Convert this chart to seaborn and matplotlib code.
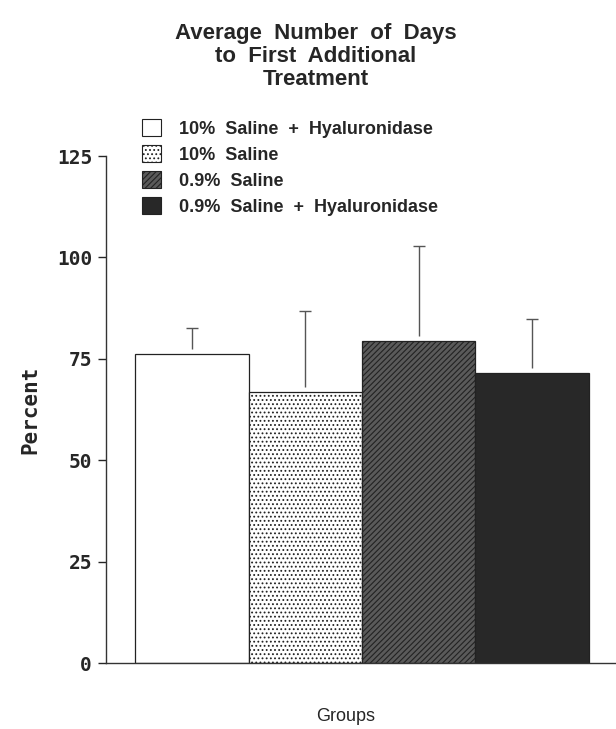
import pandas as pd
import matplotlib
matplotlib.use("Agg")
import matplotlib.pyplot as plt
import seaborn as sns
from matplotlib.patches import Patch

# ===============================
# Data
# ===============================
groups = ["10% Saline + Hyaluronidase", "10% Saline", "0.9% Saline", "0.9% Saline + Hyaluronidase"]
legend_labels = ["10%  Saline  +  Hyaluronidase", "10%  Saline", "0.9%  Saline", "0.9%  Saline  +  Hyaluronidase"]
means = [76.2, 66.8, 79.4, 71.5]
upper_err = [6.4, 20.0, 23.4, 13.3]
yticks = [0, 25, 50, 75, 100, 125]

faces = ["white", "white", "#5a5a5a", "#282828"]
hatches = [None, "....", "//////", None]

df = pd.DataFrame({"group": groups, "value": means})

sns.set_style("white")
plt.rcParams["font.family"] = ["Liberation Sans", "DejaVu Sans"]
plt.rcParams["hatch.linewidth"] = 0.8

fig = plt.figure(figsize=(6.16, 7.29), dpi=100)
ax = fig.add_axes([0.172, 0.0905, 0.828, 0.6955])

sns.barplot(data=df, x="group", y="value", hue="group", order=groups,
            hue_order=groups, palette=faces, width=1.0, dodge=False,
            legend=False, ax=ax, edgecolor="#222222", linewidth=0.9)

for patch, h in zip(ax.patches, hatches):
    if h:
        patch.set_hatch(h)

# upper-only error bars (small gap above bar, cap at top only)
xs = list(range(len(groups)))
tops = [m + e for m, e in zip(means, upper_err)]
ax.errorbar(xs, [m + 1.2 for m in means],
            yerr=[[0] * 4, [e - 1.2 for e in upper_err]], fmt="none",
            ecolor="#555555", elinewidth=1.0, capsize=0)
ax.plot(xs, tops, linestyle="none", marker="_", markersize=9,
        markeredgewidth=1.0, color="#555555")

ax.set_ylim(0, 125)
ax.set_xlim(-0.756, 3.738)
ax.set_yticks(yticks)
ax.set_yticklabels([str(t) for t in yticks], family="DejaVu Sans Mono",
                   fontweight="bold", fontsize=14)
ax.tick_params(axis="y", direction="out", length=6, width=1, left=True, pad=4)
ax.set_xticks([])
ax.set_xlabel("Groups", fontsize=13)
ax.xaxis.set_label_coords(0.469, -0.088)
ax.set_ylabel("Percent", family="DejaVu Sans Mono", fontweight="bold",
              fontsize=15, labelpad=12)

for side in ["top", "right"]:
    ax.spines[side].set_visible(False)
for side in ["left", "bottom"]:
    ax.spines[side].set_color("#333333")
    ax.spines[side].set_linewidth(1)

fig.text(0.512, 0.969, "Average  Number  of  Days\nto  First  Additional\nTreatment",
         ha="center", va="top", fontsize=16, fontweight="bold", linespacing=1.15)

handles = [Patch(facecolor=f, edgecolor="#222222", hatch=h, linewidth=0.8)
           for f, h in zip(faces, hatches)]
fig.legend(handles, legend_labels, loc="upper left", bbox_to_anchor=(0.218, 0.847),
           frameon=False, prop={"weight": "bold", "size": 13},
           handlelength=1.1, handleheight=1.1, handletextpad=1.0,
           labelspacing=0.4, borderaxespad=0)

plt.savefig("out.png", dpi=100)
plt.close()
